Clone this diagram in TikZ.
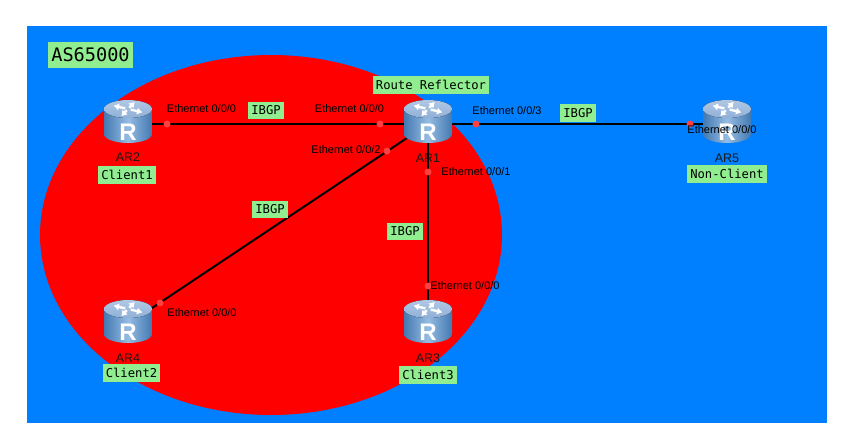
\documentclass[tikz,border=0pt]{standalone}
\usepackage{fontspec}
\setmainfont{Liberation Sans}
\newfontfamily\labelfont{DejaVu Sans Mono}
\usetikzlibrary{arrows.meta}
\definecolor{asblue}{HTML}{0080FF}
\definecolor{tagcol}{HTML}{90EE90}
\definecolor{dotred}{HTML}{FF4040}
\definecolor{routertop}{HTML}{8FB0D8}
\definecolor{routerside}{HTML}{4F8FD0}
\tikzset{
    anchorpt/.style={inner sep=0pt, minimum size=0pt},
    tag/.style={fill=tagcol, font=\labelfont\fontsize{12.2}{13}\selectfont, text=black, inner xsep=3pt, inner ysep=0pt, minimum height=17.5pt},
    iface/.style={font=\fontsize{11}{12}\selectfont, text=black, inner sep=0pt},
    devname/.style={font=\fontsize{12.5}{13}\selectfont, text=black!90, inner sep=0pt},
    port/.style={circle, fill=dotred, inner sep=0pt, minimum size=7pt},
    link/.style={line width=2pt, black},
    router/.pic={
        \shade[left color=routerside!85!black, right color=routerside!85!black, middle color=routerside!60!white]
            (-24,-15) -- (-24,10) arc[x radius=24, y radius=9, start angle=180, end angle=0] -- (24,-15) -- cycle;
        \fill[top color=routertop!70!white, bottom color=routertop] (0,-15) ellipse[x radius=24, y radius=9];
        \foreach \a in {25,115,205,295}
            \draw[white, line width=2.4pt, -{Latex[length=5.5pt,width=7.5pt]}]
                ({3*cos(\a)},{-15+1.4*sin(\a)}) -- ({16*cos(\a)},{-15+8*sin(\a)});
        \node[white, font=\bfseries\fontsize{24}{25}\selectfont, inner sep=0pt] at (0,8) {R};
    }
}
\begin{document}
\begin{tikzpicture}[x=1pt, y=-1pt]
    \useasboundingbox (0,0) rectangle (845,439);
    \fill[asblue] (27,26) rectangle (827,423);
    \fill[red] (271,235) ellipse[x radius=231, y radius=180];
    % devices
    \node[anchorpt] (ar1) at (428,124) {};
    \node[anchorpt] (ar2) at (128,124) {};
    \node[anchorpt] (ar3) at (428,324) {};
    \node[anchorpt] (ar4) at (128,324) {};
    \node[anchorpt] (ar5) at (727,124) {};
    % links
    \draw[link] (ar2) -- (ar1);
    \draw[link] (ar1) -- (ar5);
    \draw[link] (ar1) -- (ar3);
    \draw[link] (ar1) -- (ar4);
    \foreach \r in {ar1,ar2,ar3,ar4,ar5}
        \pic at (\r) {router};
    % ports
    \foreach \n/\x/\y in {p2/167/124, p1a/380/124, p1d/476/124, p5/690/124, p1c/387/151, p1b/428/172, p3/428/286, p4/160/303}
        \node[port] (\n) at (\x,\y) {};
    % interface names
    \node[iface] (e2) at (201.5,109) {Ethernet 0/0/0};
    \node[iface] (e1a) at (349.5,109) {Ethernet 0/0/0};
    \node[iface] (e1d) at (507,111) {Ethernet 0/0/3};
    \node[iface] (e5) at (722,130) {Ethernet 0/0/0};
    \node[iface] (e1c) at (346,150) {Ethernet 0/0/2};
    \node[iface] (e1b) at (476,172) {Ethernet 0/0/1};
    \node[iface] (e3) at (465,286) {Ethernet 0/0/0};
    \node[iface] (e4) at (202,313) {Ethernet 0/0/0};
    % device names
    \node[devname] (n2) at (128,157) {AR2};
    \node[devname] (n1) at (428,158) {AR1};
    \node[devname] (n5) at (727,158) {AR5};
    \node[devname] (n3) at (428,358) {AR3};
    \node[devname] (n4) at (128,358) {AR4};
    % tags
    \node[tag, font=\labelfont\fontsize{18.6}{19}\selectfont, minimum height=26pt, inner xsep=3pt] (as) at (90.5,55) {AS65000};
    \node[tag] (rr) at (431,85) {Route Reflector};
    \node[tag] (c1) at (127,175) {Client1};
    \node[tag] (c2) at (131.5,373) {Client2};
    \node[tag] (c3) at (428,375) {Client3};
    \node[tag] (nc) at (727,174) {Non-Client};
    \node[tag] (b1) at (266,110.5) {IBGP};
    \node[tag] (b2) at (578,113) {IBGP};
    \node[tag] (b3) at (270,209.5) {IBGP};
    \node[tag] (b4) at (405,231.5) {IBGP};
\end{tikzpicture}
\end{document}
